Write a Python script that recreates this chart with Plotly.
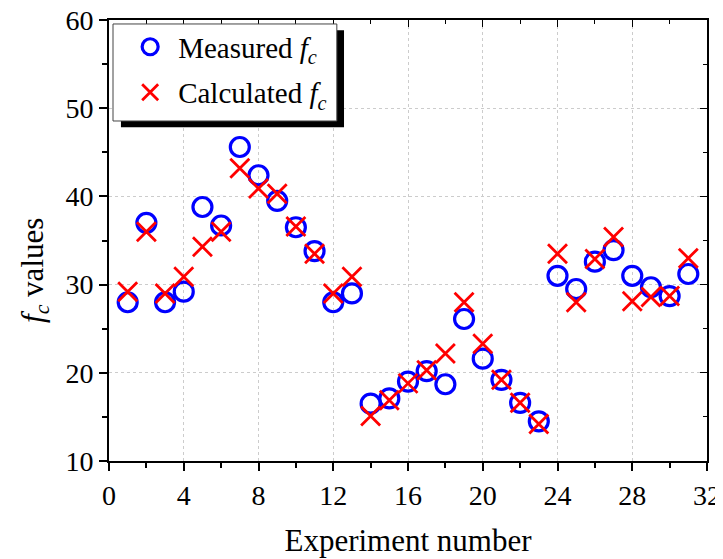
import plotly.graph_objects as go

experiment = list(range(1, 32))
measured = [28.0, 37.0, 28.0, 29.2, 38.8, 36.7, 45.6, 42.4, 39.5, 36.5,
            33.8, 28.0, 29.0, 16.5, 17.1, 19.0, 20.2, 18.7, 26.1, 21.6,
            19.2, 16.6, 14.5, 31.0, 29.5, 32.6, 33.9, 31.0, 29.7, 28.7, 31.2]
calculated = [29.2, 36.0, 29.0, 30.9, 34.3, 36.0, 43.2, 40.9, 40.3, 36.6,
              33.5, 29.0, 30.9, 15.1, 16.9, 18.8, 20.3, 22.2, 28.0, 23.3,
              19.2, 16.6, 14.2, 33.5, 28.0, 32.9, 35.4, 28.1, 28.6, 28.7, 33.0]
x_ticks = [0, 4, 8, 12, 16, 20, 24, 28, 32]
y_ticks = [10, 20, 30, 40, 50, 60]

FONT = "Liberation Serif"

fig = go.Figure()
fig.add_trace(go.Scatter(
    x=experiment, y=measured, mode="markers",
    name="Measured <i>f<sub>c</sub></i>", legend="legend",
    marker=dict(symbol="circle-open", size=19, color="#0000ff",
                line=dict(width=3.2, color="#0000ff")),
))
fig.add_trace(go.Scatter(
    x=experiment, y=calculated, mode="markers",
    name="Calculated <i>f<sub>c</sub></i>", legend="legend2",
    marker=dict(symbol="x-thin-open", size=19, color="#ff0000",
                line=dict(width=2.8, color="#ff0000")),
))
# invisible trace to drive mirrored inward ticks on top/right
fig.add_trace(go.Scatter(x=[0], y=[10], xaxis="x2", yaxis="y2",
                         mode="markers", marker=dict(opacity=0),
                         showlegend=False, hoverinfo="skip"))

axis_common = dict(showline=True, linecolor="black", linewidth=2, automargin=False,
                   mirror=True, ticklabeloverflow="allow",
                   ticks="outside", ticklen=8, tickwidth=1.5, tickcolor="black",
                   showgrid=True, gridcolor="#cccccc", griddash="dot", gridwidth=1,
                   zeroline=False, tickfont=dict(family=FONT, size=28, color="black"))

leg_common = dict(xanchor="left", yanchor="middle", bgcolor="rgba(0,0,0,0)",
                  borderwidth=0, font=dict(family=FONT, size=29, color="black"),
                  itemsizing="trace", itemwidth=46)

fig.update_layout(
    width=715, height=551,
    margin=dict(l=101, r=16, t=12, b=98),
    plot_bgcolor="white", paper_bgcolor="white",
    font=dict(family=FONT, color="black"),
    xaxis=dict(range=[0, 32], tickvals=x_ticks,
               minor=dict(dtick=2, ticks="outside", ticklen=5, tickcolor="black", showgrid=False),
               title=dict(text="Experiment number", font=dict(family=FONT, size=31), standoff=20),
               **axis_common),
    yaxis=dict(range=[10, 60], tickvals=y_ticks,
               minor=dict(dtick=5, ticks="outside", ticklen=5, tickcolor="black", showgrid=False),
               **axis_common),
    xaxis2=dict(range=[0, 32], overlaying="x", side="top", showline=False,
                ticks="inside", ticklen=7, tickcolor="black", tickvals=x_ticks,
                showticklabels=False, showgrid=False, zeroline=False, automargin=False,
                minor=dict(dtick=2, ticks="inside", ticklen=4, tickcolor="black")),
    yaxis2=dict(range=[10, 60], overlaying="y", side="right", showline=False,
                ticks="inside", ticklen=7, tickcolor="black", tickvals=y_ticks,
                showticklabels=False, showgrid=False, zeroline=False, automargin=False,
                minor=dict(dtick=5, ticks="inside", ticklen=4, tickcolor="black")),
    legend=dict(x=0.022, y=0.939, **leg_common),
    legend2=dict(x=0.022, y=0.836, **leg_common),
    annotations=[dict(text="<i>f<sub>c</sub></i> values", xref="paper", yref="paper",
                      x=-0.124, y=0.433, xanchor="center", yanchor="middle",
                      textangle=-90, showarrow=False,
                      font=dict(family=FONT, size=31, color="black"))],
    shapes=[
        dict(type="rect", xref="paper", yref="paper",
             x0=0.020, x1=0.393, y0=0.757, y1=0.977,
             fillcolor="black", line=dict(width=0), layer="above"),
        dict(type="rect", xref="paper", yref="paper",
             x0=0.0067, x1=0.381, y0=0.771, y1=0.991,
             fillcolor="white", line=dict(width=1, color="#444444"), layer="above"),
    ],
)

fig.write_html("out.html")
